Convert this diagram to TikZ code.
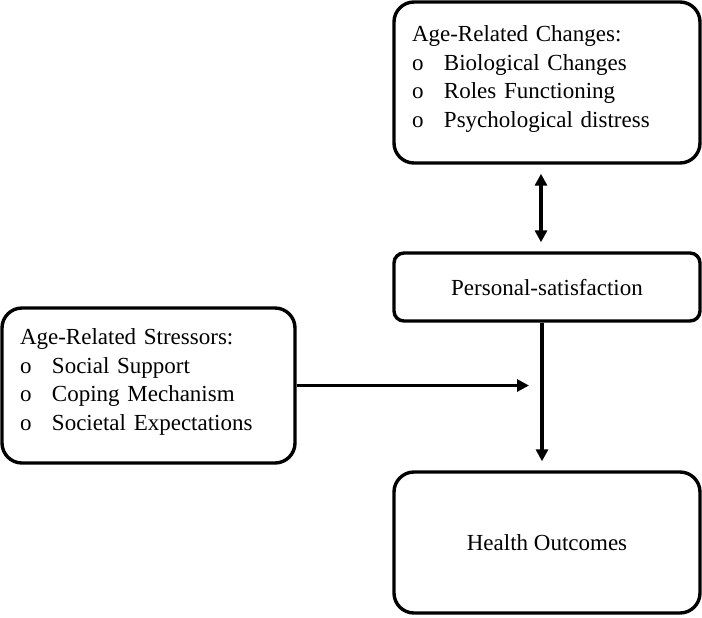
\documentclass[tikz,border=0pt]{standalone}
\usepackage{fontspec}
\setmainfont{Liberation Serif}
\usetikzlibrary{arrows.meta,positioning}
\newcommand{\bul}{\makebox[16pt][l]{o}}
\newcommand{\padbelow}{\rule[-6pt]{0pt}{6pt}}

\begin{document}
\begin{tikzpicture}[x=0.5pt,y=-0.5pt,
  >={Triangle[length=6pt,width=6pt]},
  roundbox/.style={draw,line width=1.7pt,rounded corners=#1,
    font=\fontsize{11.5}{14.25}\selectfont,inner sep=0pt},
  roundbox/.default=5pt,
  listbox/.style={roundbox=10pt,align=left,inner xsep=9pt},
  link/.style={line width=1.7pt,shorten >=4.5pt}]
% page size of the reference (in px, origin top left)
\useasboundingbox (0,0) rectangle (702,617);
% the four boxes
\node[listbox,text width=135pt,minimum height=80.5pt] (changes) at (547,82.5)
  {Age-Related Changes:\\ \bul Biological Changes\\ \bul Roles Functioning\\
   \bul Psychological distress\padbelow};
\node[roundbox,minimum width=153pt,minimum height=34pt,text depth=0pt] (personal) at (547,287)
  {Personal-satisfaction};
\node[roundbox=10pt,minimum width=153pt,minimum height=70.5pt,text depth=0pt] (health) at (547,542.5)
  {Health Outcomes};
\node[listbox,text width=128.5pt,minimum height=77.5pt] (stressors) at (148.5,385.5)
  {Age-Related Stressors:\\ \bul Social Support\\ \bul Coping Mechanism\\
   \bul Societal Expectations\padbelow};
% arrows between them
\coordinate (stem) at ([xshift=-2.5pt]personal.south);
\draw[link,<->,shorten <=4.5pt] ([xshift=-3pt]changes.south) -- ([xshift=-3pt]personal.north);
\draw[link,->] (stem) -- (stem |- health.north);
\draw[link,->,shorten >=6.5pt] (stressors.east) -- (stressors.east -| stem);
\end{tikzpicture}
\end{document}
